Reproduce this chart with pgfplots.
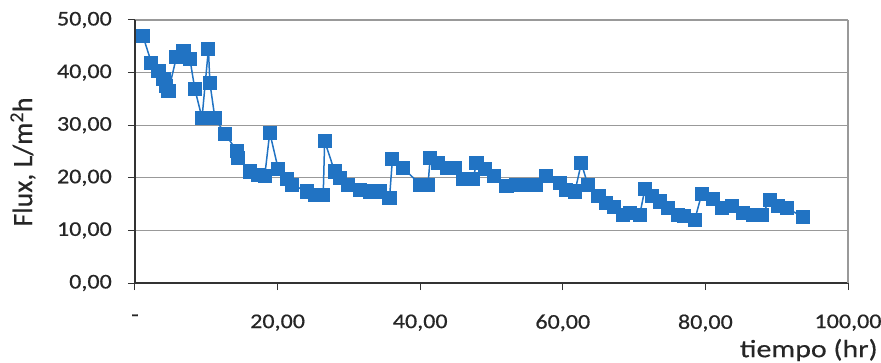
\documentclass[border=0pt]{standalone}
\usepackage{fontspec}
\setmainfont{Carlito}
\newfontfamily\cf{Carlito}[FakeStretch=1.15, FakeBold=0.6]
\newfontfamily\cfx{Carlito}[FakeStretch=1.2, FakeBold=0.4]
\newfontfamily\cfy{Carlito}[FakeBold=0.4]
\usepackage{pgfplots}
\pgfplotsset{compat=1.18}
\definecolor{serie}{RGB}{33,115,195}
\pgfplotstableread{
t f
1.1 47.0
2.3 41.9
3.3 40.3
4.0 38.7
4.4 37.5
4.7 36.5
5.8 42.9
6.8 44.1
7.7 42.6
8.4 36.8
9.4 31.4
10.3 44.5
10.5 38.1
11.2 31.4
12.6 28.4
14.3 25.1
14.5 23.8
16.1 21.2
17.3 20.6
18.2 20.4
18.9 28.6
20.1 21.6
21.3 19.7
22.0 18.7
24.1 17.4
25.2 16.8
26.4 16.8
26.6 27.0
28.0 21.2
28.8 20.0
29.9 18.7
31.6 17.7
33.0 17.4
34.4 17.4
35.7 16.2
36.1 23.5
37.6 21.9
40.0 18.7
41.1 18.7
41.4 23.8
42.5 22.8
43.7 21.9
44.9 21.9
46.0 19.7
47.4 19.7
47.9 22.8
49.1 21.6
50.3 20.3
52.1 18.4
53.5 18.7
54.9 18.7
56.3 18.7
57.7 20.3
59.6 19.0
60.5 17.7
61.7 17.4
62.6 22.8
63.5 18.7
65.0 16.5
66.1 15.2
67.2 14.5
68.4 13.0
69.4 13.3
70.8 13.0
71.5 17.8
72.5 16.6
73.6 15.5
74.8 14.3
76.2 13.0
77.0 12.7
78.5 12.0
79.5 17.0
81.1 16.0
82.3 14.3
83.7 14.6
85.3 13.3
86.7 13.0
87.9 13.0
89.1 15.8
90.2 14.7
91.4 14.2
93.7 12.6
}\datos
\begin{document}
\begin{tikzpicture}
\begin{axis}[
  at={(0,0)}, anchor=south west,
  scale only axis, width=713bp, height=263bp,
  xmin=0, xmax=100, ymin=0, ymax=50,
  axis lines=left,
  axis line style={-, black!80, line width=1.2bp},
  xtick={0,20,...,100},
  xticklabels={{-},{20,00},{40,00},{60,00},{80,00},{100,00}},
  ytick={0,10,...,50},
  yticklabels={},
  tick align=outside, major tick length=7bp,
  tick style={black!80, line width=1bp},
  ymajorgrids, grid style={gray!80, line width=1.2bp},
  ticklabel style={font=\cf\fontsize{21}{24}\selectfont, text=black!85},
  xticklabel style={anchor=north, yshift=-21bp},
  xlabel={tiempo (hr)},
  ylabel={Flux, L/m\textsuperscript{2}h},
  xlabel style={font=\cfx\fontsize{25}{28}\selectfont, text=black!85,
    at={(axis description cs:0.945,-0.255)}, anchor=center},
  ylabel style={font=\cfy\fontsize{28}{31}\selectfont, text=black!85,
    at={(axis description cs:-0.157,0.46)}, anchor=center},
  clip=false,
]
\draw[gray!80, line width=1.2bp] (rel axis cs:1,0) -- (rel axis cs:1,1);
\addplot[serie, line width=1.5bp, mark=square*, mark size=6.3bp,
  mark options={solid, fill=serie, draw=serie}] table[x=t, y=f] {\datos};
\foreach \v/\s in {0/{0,00},10/{10,00},20/{20,00},30/{30,00},40/{40,00},50/{50,00}}{
  \edef\tmp{\noexpand\node[anchor=east, inner sep=0pt, font=\noexpand\cf\noexpand\fontsize{21}{24}\noexpand\selectfont, text=black!85] at (rel axis cs:0,\v/50) [xshift=-23bp] {\s};}
  \tmp
}
\end{axis}
\pgfresetboundingbox
\useasboundingbox (-135bp,-80bp) rectangle (746bp,283bp);
\end{tikzpicture}
\end{document}
